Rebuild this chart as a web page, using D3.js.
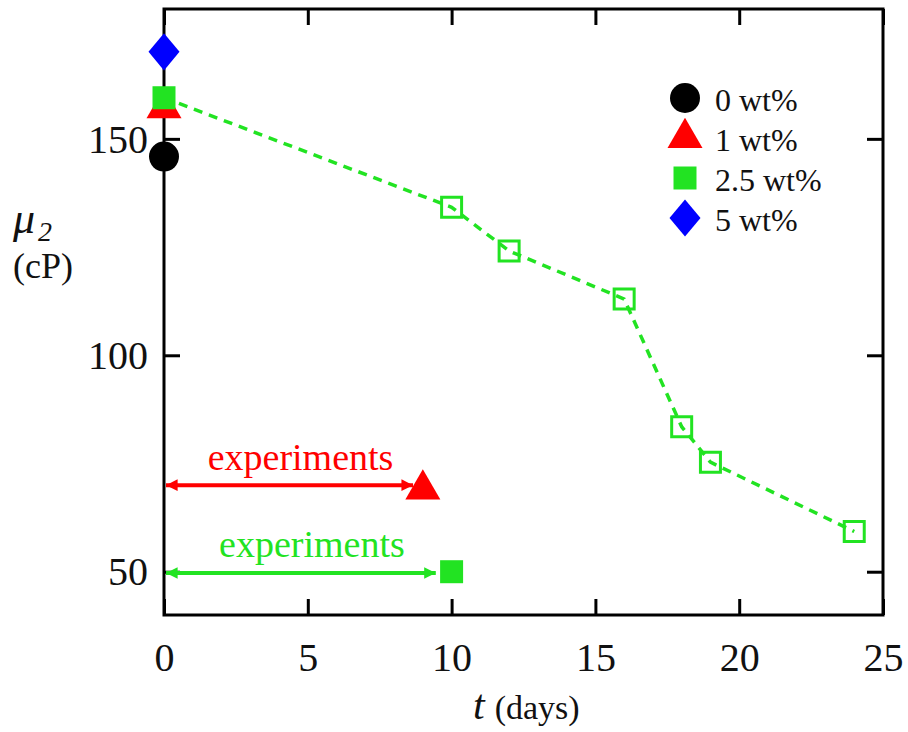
<!DOCTYPE html>
<html>
<head>
<meta charset="utf-8">
<script src="https://cdnjs.cloudflare.com/ajax/libs/d3/7.8.5/d3.min.js"></script>
<style>
  body { margin: 0; background: #fff; }
  svg text { font-family: "Liberation Serif", "Times New Roman", serif; }
</style>
</head>
<body>
<div id="chart"></div>
<script>
/* global d3 */

// data
var xTicks = [ 0, 5, 10, 15, 20, 25 ];
var yTicks = [ 50, 100, 150 ];

// measurements at t = 0 for each concentration
var initPoints = [
  { label: "0 wt%",   shape: "circle",   color: "#000000", t: 0, mu: 145.9 },
  { label: "1 wt%",   shape: "triangle", color: "#ff0000", t: 0, mu: 157.1 },
  { label: "2.5 wt%", shape: "square",   color: "#22e322", t: 0, mu: 159.5 },
  { label: "5 wt%",   shape: "diamond",  color: "#0000ff", t: 0, mu: 170.1 }
];

// 2.5 wt% aging series (hollow squares, dashed line)
var agingDays = [ 0, 10, 12, 16, 18, 19, 24 ];
var agingMu   = [ 159.5, 134.2, 124.1, 113.0, 83.5, 75.3, 59.3 ];

// end of experiments markers
var expPoints = [
  { shape: "triangle", color: "#ff0000", t: 9,  mu: 69 },
  { shape: "square",   color: "#22e322", t: 10, mu: 50 }
];
var expArrows = [
  { color: "#ff0000", from: 0, to: 8.66, mu: 70,   textMu: 73.5 },
  { color: "#22e322", from: 0, to: 9.45, mu: 49.7, textMu: 53.3 }
];

var width = 908, height = 732;
var margin = { top: 9, right: 25, bottom: 117, left: 164 };

var x = d3.scaleLinear().domain( [ 0, 25 ] ).range( [ margin.left, width - margin.right ] );
var y = d3.scaleLinear().domain( [ 40, 180 ] ).range( [ height - margin.bottom, margin.top ] );

var svg = d3.select( "#chart" ).append( "svg" )
  .attr( "width", width )
  .attr( "height", height );

// marker shapes, s = nominal size in px
function shapePath( shape, s ) {
  var p = d3.path();
  if ( shape === "circle" ) {
    p.arc( 0, 0, s / 2, 0, 2 * Math.PI );
  } else if ( shape === "triangle" ) {
    var h = s * Math.sqrt( 3 ) / 2;
    p.moveTo( 0, -h * 2 / 3 );
    p.lineTo( s / 2, h / 3 );
    p.lineTo( -s / 2, h / 3 );
  } else if ( shape === "square" ) {
    p.rect( -s / 2, -s / 2, s, s );
  } else if ( shape === "diamond" ) {
    p.moveTo( 0, -s * 0.6 );
    p.lineTo( s * 0.5, 0 );
    p.lineTo( 0, s * 0.6 );
    p.lineTo( -s * 0.5, 0 );
  }
  p.closePath();
  return p.toString();
}
var shapeSize = { circle: 30, triangle: 35, square: 23, diamond: 31 };

// axes: ticks pointing inward on all four sides
var tickLen = 16;
var gx = svg.append( "g" )
  .attr( "transform", "translate(0," + y.range()[ 0 ] + ")" )
  .call( d3.axisBottom( x ).tickValues( xTicks ).tickSizeInner( -tickLen ).tickSizeOuter( 0 ).tickPadding( 0 ) );
gx.selectAll( "text" ).attr( "y", 56 ).attr( "dy", 0 );

var gy = svg.append( "g" )
  .attr( "transform", "translate(" + x.range()[ 0 ] + ",0)" )
  .call( d3.axisLeft( y ).tickValues( yTicks ).tickSizeInner( -tickLen ).tickSizeOuter( 0 ).tickPadding( 16 ) );
gy.selectAll( "text" ).attr( "dy", "0.33em" );

svg.append( "g" )
  .attr( "transform", "translate(0," + y.range()[ 1 ] + ")" )
  .call( d3.axisTop( x ).tickValues( xTicks ).tickSizeInner( -tickLen ).tickSizeOuter( 0 ).tickFormat( "" ) );
svg.append( "g" )
  .attr( "transform", "translate(" + x.range()[ 1 ] + ",0)" )
  .call( d3.axisRight( y ).tickValues( yTicks ).tickSizeInner( -tickLen ).tickSizeOuter( 0 ).tickFormat( "" ) );

svg.selectAll( ".domain" ).remove();
svg.selectAll( ".tick line" ).style( "stroke", "#000" ).style( "stroke-width", 3 );
svg.selectAll( ".tick text" )
  .style( "font-family", "Liberation Serif, serif" )
  .style( "font-size", "40px" )
  .style( "fill", "#111" );

svg.append( "rect" )
  .attr( "x", x.range()[ 0 ] )
  .attr( "y", y.range()[ 1 ] )
  .attr( "width", x.range()[ 1 ] - x.range()[ 0 ] )
  .attr( "height", y.range()[ 0 ] - y.range()[ 1 ] )
  .style( "fill", "none" )
  .style( "stroke", "#000" )
  .style( "stroke-width", 3 );

// dashed aging line
var aging = agingDays.map( function( d, i ) { return [ d, agingMu[ i ] ]; } );
var line = d3.line().x( d => x( d[ 0 ] ) ).y( d => y( d[ 1 ] ) );

svg.append( "path" )
  .datum( aging )
  .attr( "d", line )
  .style( "fill", "none" )
  .style( "stroke", "#22e322" )
  .style( "stroke-width", 3.5 )
  .style( "stroke-dasharray", "9,7" );

svg.selectAll( ".hollow" )
  .data( aging.slice( 1 ) )
  .enter()
  .append( "path" )
    .attr( "class", "hollow" )
    .attr( "transform", d => "translate(" + x( d[ 0 ] ) + "," + y( d[ 1 ] ) + ")" )
    .attr( "d", shapePath( "square", 20 ) )
    .style( "fill", "none" )
    .style( "stroke", "#22e322" )
    .style( "stroke-width", 3 );

// arrows with heads on both ends
var defs = svg.append( "defs" );
expArrows.forEach( function( a, i ) {
  defs.append( "marker" )
    .attr( "id", "head" + i )
    .attr( "viewBox", "0 0 10 10" )
    .attr( "refX", 10 )
    .attr( "refY", 5 )
    .attr( "markerWidth", 3.2 )
    .attr( "markerHeight", 2.9 )
    .attr( "markerUnits", "strokeWidth" )
    .attr( "orient", "auto-start-reverse" )
    .append( "path" )
      .attr( "d", "M0,0L10,5L0,10z" )
      .style( "fill", a.color );
} );

svg.selectAll( ".arrow" )
  .data( expArrows )
  .enter()
  .append( "line" )
    .attr( "class", "arrow" )
    .attr( "x1", d => x( d.from ) + 2 )
    .attr( "x2", d => x( d.to ) )
    .attr( "y1", d => y( d.mu ) )
    .attr( "y2", d => y( d.mu ) )
    .style( "stroke", d => d.color )
    .style( "stroke-width", 4 )
    .attr( "marker-start", ( d, i ) => "url(#head" + i + ")" )
    .attr( "marker-end", ( d, i ) => "url(#head" + i + ")" );

svg.selectAll( ".exptext" )
  .data( expArrows )
  .enter()
  .append( "text" )
    .attr( "class", "exptext" )
    .attr( "x", d => ( x( d.from ) + x( d.to ) ) / 2 + 12 )
    .attr( "y", d => y( d.textMu ) )
    .attr( "text-anchor", "middle" )
    .style( "font-size", "38px" )
    .style( "fill", d => d.color )
    .text( "experiments" );

// filled markers
svg.selectAll( ".pt" )
  .data( initPoints.concat( expPoints ) )
  .enter()
  .append( "path" )
    .attr( "class", "pt" )
    .attr( "transform", d => "translate(" + x( d.t ) + "," + y( d.mu ) + ")" )
    .attr( "d", d => shapePath( d.shape, shapeSize[ d.shape ] ) )
    .style( "fill", d => d.color );

// legend
var legend = svg.append( "g" ).attr( "transform", "translate(685,98)" );
var rowH = 40;
legend.selectAll( ".sym" )
  .data( initPoints )
  .enter()
  .append( "path" )
    .attr( "class", "sym" )
    .attr( "transform", ( d, i ) => "translate(0," + ( i * rowH ) + ")" )
    .attr( "d", d => shapePath( d.shape, shapeSize[ d.shape ] ) )
    .style( "fill", d => d.color );
legend.selectAll( ".lab" )
  .data( initPoints )
  .enter()
  .append( "text" )
    .attr( "class", "lab" )
    .attr( "x", 30 )
    .attr( "y", ( d, i ) => i * rowH + 13 )
    .style( "font-size", "32px" )
    .style( "fill", "#111" )
    .text( d => d.label );

// axis titles
var xt = svg.append( "text" )
  .attr( "x", 473 )
  .attr( "y", 719 )
  .style( "fill", "#111" );
xt.append( "tspan" ).style( "font-style", "italic" ).style( "font-size", "42px" ).text( "t" );
xt.append( "tspan" ).style( "font-size", "34px" ).attr( "dx", 10 ).text( "(days)" );

var yt = svg.append( "text" )
  .attr( "x", 13 )
  .attr( "y", 233 )
  .style( "fill", "#111" );
yt.append( "tspan" ).style( "font-style", "italic" ).style( "font-size", "44px" ).text( "μ" );
yt.append( "tspan" ).style( "font-style", "italic" ).style( "font-size", "28px" ).attr( "dx", 3 ).attr( "dy", 8 ).text( "2" );

svg.append( "text" )
  .attr( "x", 43 )
  .attr( "y", 278 )
  .attr( "text-anchor", "middle" )
  .style( "font-size", "36px" )
  .style( "fill", "#111" )
  .text( "(cP)" );
</script>
</body>
</html>
